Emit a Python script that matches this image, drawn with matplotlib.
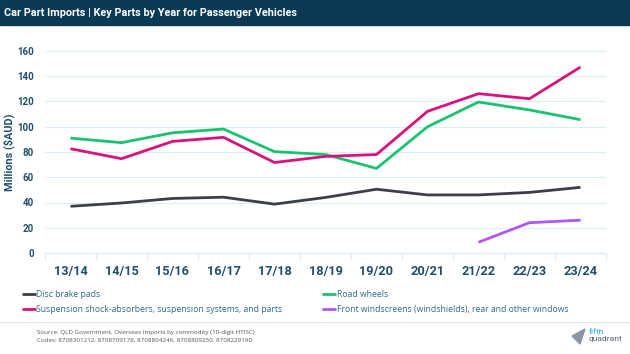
import matplotlib.pyplot as plt
import numpy as np

years = ['13/14', '14/15', '15/16', '16/17', '17/18', '18/19',
         '19/20', '20/21', '21/22', '22/23', '23/24']
disc_brake_pads = [37, 39.6, 43.2, 44.2, 38.7, 44, 50.5, 46, 46, 48, 52]
road_wheels = [91, 87.4, 95.2, 98.2, 80.3, 78, 67, 100, 119.6, 113.3, 105.6]
suspension = [82.6, 74.7, 88.4, 91.6, 71.7, 76.5, 78, 112.2, 126.2, 122.2, 147.3]
windscreens = [None] * 8 + [8.5, 24, 26]

labels = ['Disc brake pads', 'Road wheels',
          'Suspension shock-absorbers, suspension systems, and parts',
          'Front windscreens (windshields), rear and other windows']
colors = ['#3b3f47', '#1cc270', '#d8137c', '#b256f5']

navy = '#0b3a57'
text_blue = '#1f4f6e'
grid_blue = '#dcedf8'
plt.rcParams['font.family'] = ['Roboto', 'DejaVu Sans']

fig = plt.figure(figsize=(6.3, 3.54), dpi=100)

# header bar
fig.patches.append(plt.Rectangle((0, 1 - 24.5 / 354), 1, 24.5 / 354, transform=fig.transFigure,
                                 color=navy, zorder=0))
fig.text(4.5 / 630, 1 - 12.5 / 354, 'Car Part Imports | Key Parts by Year for Passenger Vehicles',
         color='white', fontsize=7.8, fontweight='bold', va='center', ha='left')

ax = fig.add_axes([45 / 630, 1 - 253 / 354, 561 / 630, 202 / 354])
x = np.arange(len(years))
series = [disc_brake_pads, road_wheels, suspension, windscreens]
lines = []
for s, c, lab in zip(series, colors, labels):
    xs = [i for i, v in zip(x, s) if v is not None]
    ys = [v for v in s if v is not None]
    ln, = ax.plot(xs, ys, color=c, lw=2, label=lab, solid_capstyle='butt')
    lines.append(ln)

ax.set_xlim(-0.5, len(years) - 0.5)
ax.set_ylim(0, 160)
ax.set_yticks(range(0, 161, 20))
ax.grid(axis='y', color=grid_blue, lw=0.8)
ax.set_axisbelow(True)
for sp in ['top', 'right', 'left']:
    ax.spines[sp].set_visible(False)
ax.spines['bottom'].set_color(grid_blue)
ax.spines['bottom'].set_linewidth(0.9)

ax.set_xticks(x)
ax.set_xticklabels(years)
ax.set_xticks(np.arange(-0.5, len(years), 1), minor=True)
ax.tick_params(axis='x', which='major', length=0, pad=9, labelsize=9.2, labelcolor=text_blue)
ax.tick_params(axis='x', which='minor', length=5, color=grid_blue, width=0.9)
ax.tick_params(axis='y', length=0, pad=8, labelsize=7, labelcolor=text_blue)
for t in ax.get_xticklabels() + ax.get_yticklabels():
    t.set_fontweight('bold')
ax.set_ylabel('Millions ($AUD)', color=text_blue, fontsize=7.8, fontweight='bold')
ax.yaxis.set_label_coords(-30 / 561, 0.5)

# legend filled row by row, as in the reference
order = [0, 2, 1, 3]
leg = fig.legend([lines[i] for i in order], [labels[i] for i in order], ncol=2, loc='upper left',
                 bbox_to_anchor=(14 / 630, 1 - 282 / 354), frameon=False,
                 prop={'family': 'Open Sans', 'size': 6.2}, handlelength=1.6, handletextpad=0.1,
                 columnspacing=4.6, labelspacing=0.7, labelcolor='#2d6b86')

# footer
fig.add_artist(plt.Line2D([0, 1], [1 - 322 / 354] * 2, color='#e6e6e6', lw=0.8))
fig.text(37 / 630, 1 - 332.5 / 354, 'Source: QLD Government, Overseas imports by commodity (10-digit HTISC)',
         fontsize=4.5, color='#555555', va='center', family='Open Sans')
fig.text(37 / 630, 1 - 340 / 354, 'Codes: 8708301212; 8708709178, 8708804246, 8708809250, 8708229190',
         fontsize=4.5, color='#555555', va='center', family='Open Sans')
fig.text(589 / 630, 1 - 332.5 / 354, 'fifth', fontsize=6, color='#2b9fe0', va='center')
fig.text(589 / 630, 1 - 339.5 / 354, 'quadrant', fontsize=6, color='#5a6470', va='center')
fig.add_artist(plt.Polygon([[572 / 630, 1 - 336 / 354], [585 / 630, 1 - 329 / 354],
                            [580 / 630, 1 - 344 / 354]], closed=True, color='#8a96a3'))

fig.savefig('out.png', dpi=100)
